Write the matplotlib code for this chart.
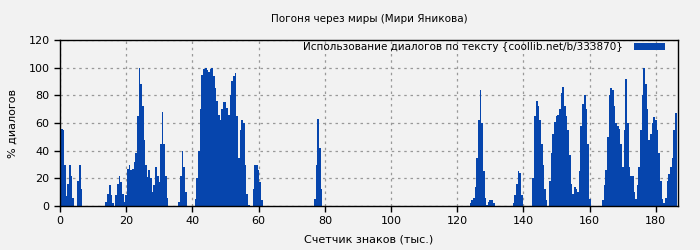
import numpy as np
import matplotlib
matplotlib.use("Agg")
import matplotlib.pyplot as plt
from matplotlib.patches import Patch

title = "Погоня через миры (Мири Яникова)"
xlabel = "Счетчик знаков (тыс.)"
ylabel = "% диалогов"
legend_label = "Использование диалогов по тексту {coollib.net/b/333870}"

step_k = 0.5  # sampling step of the counter, thousand chars

seg_starts = [0.0, 14.0, 20.0, 36.0, 41.0, 58.5, 77.0, 124.0, 137.0, 143.0, 148.0, 164.0]
seg_values = [
    [57, 56, 55, 30, 7, 16, 30, 22, 6, 0, 0, 18, 30, 12, 0],
    [3, 9, 15, 8, 2, 0, 8, 16, 22, 17, 9, 3],
    [8, 27, 30, 26, 27, 32, 38, 65, 100, 88, 72, 48, 30, 21, 26, 20, 10, 15, 28, 22,
     17, 45, 68, 45, 22, 6],
    [3, 22, 40, 28, 10],
    [5, 20, 40, 70, 95, 99, 100, 98, 97, 99, 100, 94, 85, 76, 66, 62, 70, 75, 75, 71,
     66, 80, 90, 94, 96, 65, 35, 55, 62, 60, 30, 9, 1],
    [12, 30, 30, 26, 17, 4],
    [5, 30, 63, 42, 12],
    [2, 4, 6, 14, 35, 62, 84, 60, 25, 6, 1, 3, 4, 4, 2],
    [2, 8, 16, 25, 24, 8],
    [20, 65, 76, 72, 62, 45, 30, 12, 4],
    [18, 38, 52, 61, 65, 66, 70, 82, 86, 72, 65, 55, 37, 16, 9, 14, 12, 10, 25, 58,
     74, 80, 70, 45, 5],
    [4, 15, 26, 50, 80, 85, 84, 72, 60, 58, 56, 45, 28, 55, 92, 60, 28, 22, 22, 10,
     5, 15, 28, 55, 80, 100, 88, 70, 48, 52, 60, 64, 62, 55, 38, 18, 5, 2, 6, 18,
     23, 28, 35, 55, 67],
]

xs, ys = [], []
for s, vals in zip(seg_starts, seg_values):
    for i, v in enumerate(vals):
        xs.append(s + i * step_k)
        ys.append(v)

bg = "#f2f2f2"
blue = "#0645ad"

fig = plt.figure(figsize=(7, 2.5), dpi=100, facecolor=bg)
ax = fig.add_axes([0.0857, 0.176, 0.8829, 0.664], facecolor=bg)

ax.bar(xs, ys, width=step_k * 1.05, color=blue, linewidth=0, align="center", zorder=2)

ax.set_xlim(0, 186.7)
ax.set_ylim(0, 120)
ax.set_xticks(np.arange(0, 181, 20))
ax.set_yticks(np.arange(0, 121, 20))
ax.tick_params(labelsize=8, length=4, width=1, color="black")
ax.grid(True, color="#999999", linestyle=(0, (2, 3)), linewidth=0.9, zorder=1)
ax.set_axisbelow(True)
for sp in ax.spines.values():
    sp.set_color("black")
    sp.set_linewidth(1)

ax.set_title(title, fontsize=7.5, pad=13)
ax.set_xlabel(xlabel, fontsize=8, labelpad=6)
ax.set_ylabel(ylabel, fontsize=8, labelpad=8)

handle = Patch(facecolor=blue, edgecolor="none")
ax.legend([handle], [legend_label], loc="upper right", frameon=False, fontsize=7.5,
          markerfirst=False, handlelength=3.0, handleheight=0.7,
          borderaxespad=0.0, handletextpad=1.05,
          bbox_to_anchor=(0.9854, 1.012))

fig.savefig("out.png", dpi=100, facecolor=bg)
